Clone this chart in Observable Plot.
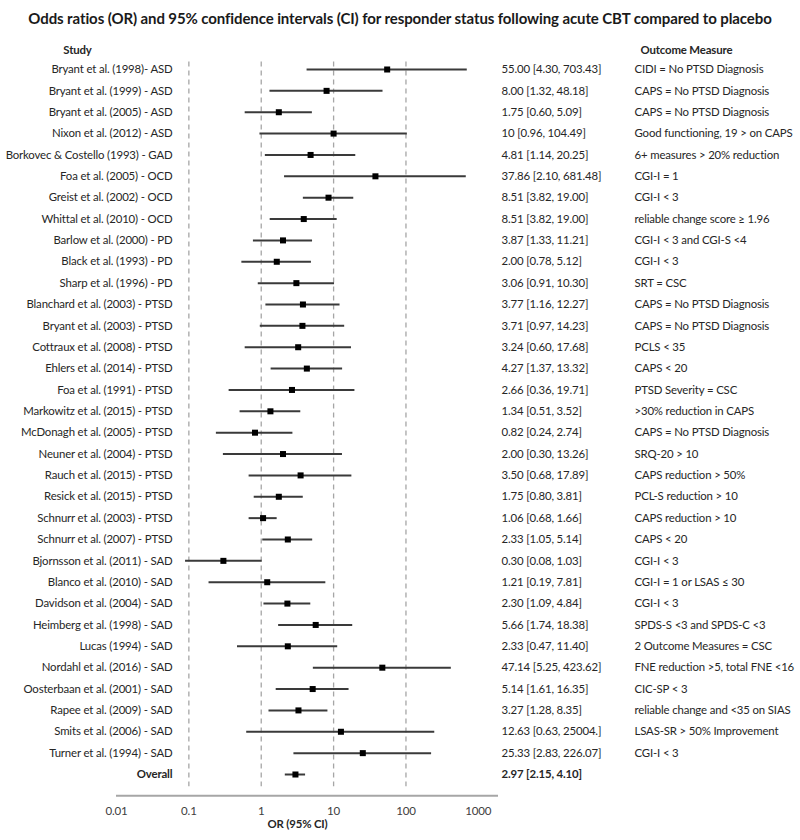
<!DOCTYPE html>
<html>
<head>
<meta charset="utf-8">
<script src="https://cdn.jsdelivr.net/npm/d3@7"></script>
<script src="https://cdn.jsdelivr.net/npm/@observablehq/plot@0.6"></script>
<style>
  html, body { margin: 0; padding: 0; background: #fff; overflow: hidden; font-family: Lato, "Open Sans", sans-serif; }
  #title { height: 36px; line-height: 36px; text-align: center; font-weight: bold; font-size: 15px; color: #1a1a1a; white-space: nowrap; letter-spacing: -0.1px; }
  #chart svg { display: block; }
  #chart svg text { letter-spacing: -0.15px; }
  g[aria-label="header"] text { text-decoration: underline; }
</style>
</head>
<body>
<div id="title">Odds ratios (OR) and 95% confidence intervals (CI) for responder status following acute CBT compared to placebo</div>
<div id="chart"></div>
<script>
const studies = [
  "Bryant et al. (1998)- ASD", "Bryant et al. (1999) - ASD", "Bryant et al. (2005) - ASD", "Nixon et al. (2012) - ASD",
  "Borkovec & Costello (1993) - GAD", "Foa et al. (2005) - OCD", "Greist et al. (2002) - OCD", "Whittal et al. (2010) - OCD",
  "Barlow et al. (2000) - PD", "Black et al. (1993) - PD", "Sharp et al. (1996) - PD", "Blanchard et al. (2003) - PTSD",
  "Bryant et al. (2003) - PTSD", "Cottraux et al. (2008) - PTSD", "Ehlers et al. (2014) - PTSD", "Foa et al. (1991) - PTSD",
  "Markowitz et al. (2015) - PTSD", "McDonagh et al. (2005) - PTSD", "Neuner et al. (2004) - PTSD", "Rauch et al. (2015) - PTSD",
  "Resick et al. (2015) - PTSD", "Schnurr et al. (2003) - PTSD", "Schnurr et al. (2007) - PTSD", "Bjornsson et al. (2011) - SAD",
  "Blanco et al. (2010) - SAD", "Davidson et al. (2004) - SAD", "Heimberg et al. (1998) - SAD", "Lucas (1994) - SAD",
  "Nordahl et al. (2016) - SAD", "Oosterbaan et al. (2001) - SAD", "Rapee et al. (2009) - SAD", "Smits et al. (2006) - SAD",
  "Turner et al. (1994) - SAD", "Overall"
];
const orText = [
  "55.00 [4.30, 703.43]", "8.00 [1.32, 48.18]", "1.75 [0.60, 5.09]", "10 [0.96, 104.49]",
  "4.81 [1.14, 20.25]", "37.86 [2.10, 681.48]", "8.51 [3.82, 19.00]", "8.51 [3.82, 19.00]",
  "3.87 [1.33, 11.21]", "2.00 [0.78, 5.12]", "3.06 [0.91, 10.30]", "3.77 [1.16, 12.27]",
  "3.71 [0.97, 14.23]", "3.24 [0.60, 17.68]", "4.27 [1.37, 13.32]", "2.66 [0.36, 19.71]",
  "1.34 [0.51, 3.52]", "0.82 [0.24, 2.74]", "2.00 [0.30, 13.26]", "3.50 [0.68, 17.89]",
  "1.75 [0.80, 3.81]", "1.06 [0.68, 1.66]", "2.33 [1.05, 5.14]", "0.30 [0.08, 1.03]",
  "1.21 [0.19, 7.81]", "2.30 [1.09, 4.84]", "5.66 [1.74, 18.38]", "2.33 [0.47, 11.40]",
  "47.14 [5.25, 423.62]", "5.14 [1.61, 16.35]", "3.27 [1.28, 8.35]", "12.63 [0.63, 25004.]",
  "25.33 [2.83, 226.07]", "2.97 [2.15, 4.10]"
];
const outcomes = [
  "CIDI = No PTSD Diagnosis", "CAPS = No PTSD Diagnosis", "CAPS = No PTSD Diagnosis", "Good functioning, 19 > on CAPS",
  "6+ measures > 20% reduction", "CGI-I = 1", "CGI-I < 3", "reliable change score \u2265 1.96",
  "CGI-I < 3 and CGI-S <4", "CGI-I < 3", "SRT = CSC", "CAPS = No PTSD Diagnosis",
  "CAPS = No PTSD Diagnosis", "PCLS < 35", "CAPS < 20", "PTSD Severity = CSC",
  ">30% reduction in CAPS", "CAPS = No PTSD Diagnosis", "SRQ-20 > 10", "CAPS reduction > 50%",
  "PCL-S reduction > 10", "CAPS reduction > 10", "CAPS < 20", "CGI-I < 3",
  "CGI-I = 1 or LSAS \u2264 30", "CGI-I < 3", "SPDS-S <3 and SPDS-C <3", "2 Outcome Measures = CSC",
  "FNE reduction >5, total FNE <16", "CIC-SP < 3", "reliable change and <35 on SIAS", "LSAS-SR > 50% Improvement",
  "CGI-I < 3", ""
];
const oddsRatio = [55.0, 8.0, 1.75, 10, 4.81, 37.86, 8.51, 3.87, 2.0, 1.64, 3.06, 3.77, 3.71, 3.24, 4.27, 2.66, 1.34, 0.82, 2.0, 3.5, 1.75, 1.06, 2.33, 0.30, 1.21, 2.30, 5.66, 2.33, 47.14, 5.14, 3.27, 12.63, 25.33, 2.97];
const lower = [4.30, 1.32, 0.60, 0.96, 1.14, 2.10, 3.82, 1.33, 0.78, 0.54, 0.91, 1.16, 0.97, 0.60, 1.37, 0.36, 0.51, 0.24, 0.30, 0.68, 0.80, 0.68, 1.05, 0.09, 0.19, 1.09, 1.74, 0.47, 5.25, 1.61, 1.28, 0.63, 2.83, 2.15];
const upper = [703.43, 48.18, 5.09, 104.49, 20.25, 681.48, 19.0, 11.21, 5.12, 4.94, 10.30, 12.27, 14.23, 17.68, 13.32, 19.71, 3.52, 2.74, 13.26, 17.89, 3.81, 1.66, 5.14, 1.03, 7.81, 4.84, 18.38, 11.40, 423.62, 16.35, 8.35, 250.04, 226.07, 4.10];
const xTicks = [0.01, 0.1, 1, 10, 100, 1000];
const gridTicks = [0.1, 1, 10, 100];

const rows = studies.map((s, i) => ({i, study: s, or: oddsRatio[i], lo: lower[i], hi: upper[i], label: orText[i], outcome: outcomes[i]}));
const studyRows = rows.filter(d => d.study !== "Overall");
const overallRows = rows.filter(d => d.study === "Overall");
const last = rows.length - 1;

const txt = "#262626";
const fs = 11.4;
const chart = Plot.plot({
  width: 800,
  height: 804,
  marginLeft: 116,
  marginRight: 302,
  marginTop: 0,
  marginBottom: 44,
  style: {fontFamily: "Lato, 'Open Sans', sans-serif", fontSize: "11.5px", color: "#404040", background: "#fff"},
  x: {type: "log", domain: [0.01, 1900], ticks: xTicks, tickFormat: d => String(d), tickSize: 0, tickPadding: 10, label: null},
  y: {type: "linear", domain: [0, last], range: [33, 738], axis: null},
  marks: [
    Plot.ruleX(gridTicks, {x: d => d, y1: -0.35, y2: 33.57, stroke: "#a6a6a6", strokeWidth: 1.3, strokeDasharray: "5,4"}),
    Plot.ruleY([last + 1], {stroke: "#a6a6a6", strokeWidth: 2}),
    Plot.ruleY(rows, {y: "i", x1: "lo", x2: "hi", stroke: "#3a3a3a", strokeWidth: 2}),
    Plot.dot(rows, {x: "or", y: "i", symbol: "square", r: 3.4, fill: "#000", stroke: null}),
    Plot.text(studyRows, {y: "i", text: "study", frameAnchor: "left", dx: 56, textAnchor: "end", fill: txt, fontSize: fs}),
    Plot.text(overallRows, {y: "i", text: "study", frameAnchor: "left", dx: 56, textAnchor: "end", fill: txt, fontSize: fs, fontWeight: "bold"}),
    Plot.text(studyRows, {y: "i", text: "label", frameAnchor: "right", dx: 3, textAnchor: "start", fill: txt, fontSize: fs}),
    Plot.text(overallRows, {y: "i", text: "label", frameAnchor: "right", dx: 3, textAnchor: "start", fill: txt, fontSize: fs, fontWeight: "bold"}),
    Plot.text(rows, {y: "i", text: "outcome", frameAnchor: "right", dx: 136, textAnchor: "start", fill: txt, fontSize: fs}),
    Plot.text(["Study"], {y: -0.89, text: d => d, frameAnchor: "left", dx: -39, textAnchor: "middle", fill: txt, fontSize: fs, fontWeight: "bold", ariaLabel: "header"}),
    Plot.text(["Outcome Measure"], {y: -0.89, text: d => d, frameAnchor: "right", dx: 142, textAnchor: "start", fill: txt, fontSize: fs, fontWeight: "bold", ariaLabel: "header"}),
    Plot.text(["OR (95% CI)"], {text: d => d, frameAnchor: "bottom", dx: -10, dy: 31, textAnchor: "middle", fill: txt, fontSize: fs, fontWeight: "bold"})
  ]
});
document.getElementById("chart").appendChild(chart);
</script>
</body>
</html>
